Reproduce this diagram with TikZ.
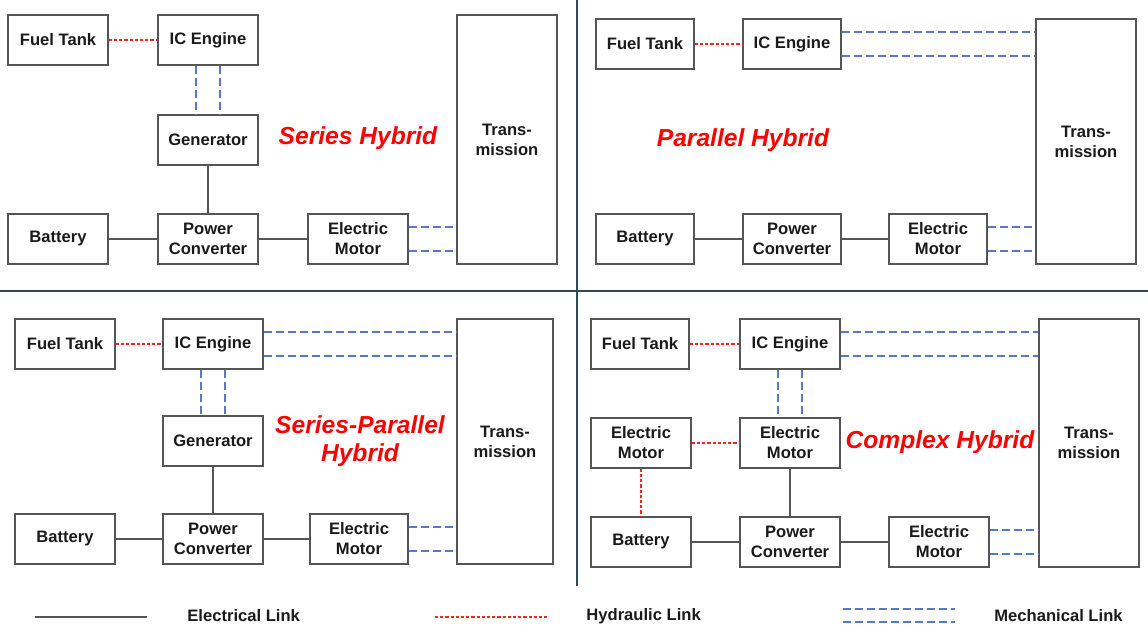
\documentclass[tikz,border=0pt]{standalone}
\usepackage{fontspec}
\setmainfont{Liberation Sans}

\definecolor{boxgray}{HTML}{555555}
\definecolor{hydred}{HTML}{FF2020}
\definecolor{mechblue}{HTML}{5A78C8}
\definecolor{divline}{HTML}{2E4A58}
\definecolor{txtdark}{HTML}{1A1A1A}

\begin{document}
\begin{tikzpicture}[x=0.5pt,y=-0.5pt,
  blk/.style={draw=boxgray,line width=0.85pt,minimum width=50pt,minimum height=25pt,
    inner sep=0pt,align=center,text=txtdark,font=\fontsize{8.3}{10}\selectfont\bfseries},
  elec/.style={draw=boxgray,line width=0.85pt},
  hyd/.style={draw=hydred,line width=0.75pt,dash pattern=on 1.6pt off 1pt},
  mech/.style={draw=mechblue,line width=0.9pt,dash pattern=on 4pt off 2pt},
  title/.style={text=red,align=center,font=\fontsize{12.3}{14}\selectfont\bfseries\itshape},
  legend/.style={anchor=west,inner sep=0pt,text=txtdark,font=\fontsize{8.3}{10}\selectfont\bfseries},
  divider/.style={draw=divline,line width=0.7pt}]

\useasboundingbox (0,0) rectangle (1148,634);

% Quadrant dividers
\draw[divider] (577,0) -- (577,586);
\draw[divider] (0,291) -- (1148,291);

% Series hybrid (top left)
\node[blk] (ft1) at (58,40) {Fuel Tank};
\node[blk] (ic1) at (208,40) {IC Engine};
\node[blk] (gen1) at (208,140) {Generator};
\node[blk] (bat1) at (58,239) {Battery};
\node[blk] (pc1) at (208,239) {Power\\Converter};
\node[blk] (em1) at (358,239) {Electric\\Motor};
\node[blk,minimum height=124.5pt] (tr1) at (507,139.5) {Trans-\\mission};
\node[title] (t1) at (358,138) {Series Hybrid};

\draw[hyd] (ft1) -- (ic1);
\draw[mech] ([xshift=-6pt]ic1.south) -- ([xshift=-6pt]gen1.north);
\draw[mech] ([xshift=6pt]ic1.south) -- ([xshift=6pt]gen1.north);
\draw[elec] (gen1) -- (pc1);
\draw[elec] (bat1) -- (pc1);
\draw[elec] (pc1) -- (em1);
\draw[mech] ([yshift=6pt]em1.east) -- ([yshift=6pt]em1.east -| tr1.west);
\draw[mech] ([yshift=-6pt]em1.east) -- ([yshift=-6pt]em1.east -| tr1.west);

% Parallel hybrid (top right)
\node[blk,minimum width=49pt] (ft2) at (645,44) {Fuel Tank};
\node[blk,minimum width=49pt] (ic2) at (792,44) {IC Engine};
\node[blk,minimum width=49pt] (bat2) at (645,239) {Battery};
\node[blk,minimum width=49pt] (pc2) at (792,239) {Power\\Converter};
\node[blk,minimum width=49pt] (em2) at (938,239) {Electric\\Motor};
\node[blk,minimum height=122.5pt] (tr2) at (1086,141.5) {Trans-\\mission};
\node[title] (t2) at (743,140) {Parallel Hybrid};

\draw[hyd] (ft2) -- (ic2);
\draw[mech] ([yshift=6pt]ic2.east) -- ([yshift=6pt]ic2.east -| tr2.west);
\draw[mech] ([yshift=-6pt]ic2.east) -- ([yshift=-6pt]ic2.east -| tr2.west);
\draw[elec] (bat2) -- (pc2);
\draw[elec] (pc2) -- (em2);
\draw[mech] ([yshift=6pt]em2.east) -- ([yshift=6pt]em2.east -| tr2.west);
\draw[mech] ([yshift=-6pt]em2.east) -- ([yshift=-6pt]em2.east -| tr2.west);

% Series-parallel hybrid (bottom left)
\node[blk] (ft3) at (65,344) {Fuel Tank};
\node[blk] (ic3) at (213,344) {IC Engine};
\node[blk] (gen3) at (213,441) {Generator};
\node[blk] (bat3) at (65,539) {Battery};
\node[blk] (pc3) at (213,539) {Power\\Converter};
\node[blk,minimum width=49pt] (em3) at (359,539) {Electric\\Motor};
\node[blk,minimum width=48pt,minimum height=122.5pt] (tr3) at (505,441.5) {Trans-\\mission};
\node[title] (t3) at (360,441) {Series-Parallel\\Hybrid};

\draw[hyd] (ft3) -- (ic3);
\draw[mech] ([yshift=6pt]ic3.east) -- ([yshift=6pt]ic3.east -| tr3.west);
\draw[mech] ([yshift=-6pt]ic3.east) -- ([yshift=-6pt]ic3.east -| tr3.west);
\draw[mech] ([xshift=-6pt]ic3.south) -- ([xshift=-6pt]gen3.north);
\draw[mech] ([xshift=6pt]ic3.south) -- ([xshift=6pt]gen3.north);
\draw[elec] (gen3) -- (pc3);
\draw[elec] (bat3) -- (pc3);
\draw[elec] (pc3) -- (em3);
\draw[mech] ([yshift=6pt]em3.east) -- ([yshift=6pt]em3.east -| tr3.west);
\draw[mech] ([yshift=-6pt]em3.east) -- ([yshift=-6pt]em3.east -| tr3.west);

% Complex hybrid (bottom right)
\node[blk,minimum width=49pt] (ft4) at (640,344) {Fuel Tank};
\node[blk] (ic4) at (790,344) {IC Engine};
\node[blk] (em4a) at (641,443) {Electric\\Motor};
\node[blk] (em4b) at (790,443) {Electric\\Motor};
\node[blk] (bat4) at (641,542) {Battery};
\node[blk] (pc4) at (790,542) {Power\\Converter};
\node[blk] (em4c) at (939,542) {Electric\\Motor};
\node[blk,minimum height=124pt] (tr4) at (1089,443) {Trans-\\mission};
\node[title] (t4) at (940,442) {Complex Hybrid};

\draw[hyd] (ft4) -- (ic4);
\draw[mech] ([yshift=6pt]ic4.east) -- ([yshift=6pt]ic4.east -| tr4.west);
\draw[mech] ([yshift=-6pt]ic4.east) -- ([yshift=-6pt]ic4.east -| tr4.west);
\draw[mech] ([xshift=-6pt]ic4.south) -- ([xshift=-6pt]em4b.north);
\draw[mech] ([xshift=6pt]ic4.south) -- ([xshift=6pt]em4b.north);
\draw[hyd] (em4a) -- (em4b);
\draw[hyd] (em4a) -- (bat4);
\draw[elec] (em4b) -- (pc4);
\draw[elec] (bat4) -- (pc4);
\draw[elec] (pc4) -- (em4c);
\draw[mech] ([yshift=6pt]em4c.east) -- ([yshift=6pt]em4c.east -| tr4.west);
\draw[mech] ([yshift=-6pt]em4c.east) -- ([yshift=-6pt]em4c.east -| tr4.west);

% Legend
\coordinate (elA) at (35,617);
\coordinate (elB) at (147,617);
\coordinate (hyA) at (435,617);
\coordinate (hyB) at (548,617);
\coordinate (meA) at (843,609);
\coordinate (meB) at (955,609);
\coordinate (meC) at (843,622);
\coordinate (meD) at (955,622);
\draw[elec,line width=1pt] (elA) -- (elB);
\draw[hyd] (hyA) -- (hyB);
\draw[mech] (meA) -- (meB);
\draw[mech] (meC) -- (meD);
\node[legend] (lg1) at (187,616) {Electrical Link};
\node[legend] (lg2) at (586,616) {Hydraulic Link};
\node[legend] (lg3) at (994,616) {Mechanical Link};

\end{tikzpicture}
\end{document}
